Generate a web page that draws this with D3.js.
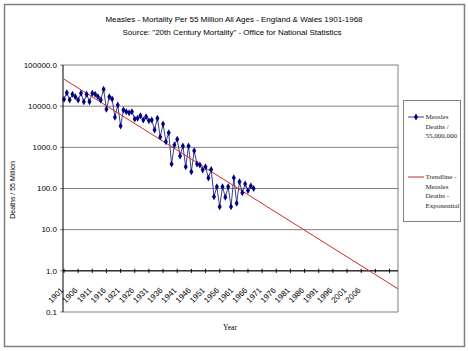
<!DOCTYPE html>
<html>
<head>
<meta charset="utf-8">
<script src="https://cdn.jsdelivr.net/npm/d3@7"></script>
<style>
  body { margin: 0; background: #fff; }
  svg { display: block; }
</style>
</head>
<body>
<script>
// measles deaths per 55 million, 1901 - 1968
let startYear = 1901;
let deaths = [
    14700, 21200, 14100, 19400, 17000, 14100, 20600, 12800, 19400, 12800,
    20600, 19400, 17000, 14100, 25700, 8400, 17000, 14900, 5400, 10700,
    3300, 8070, 7350, 6940, 7350, 4880, 5070, 5870, 4620, 5550,
    4440, 4620, 2640, 5070, 1780, 3690, 1370, 2270, 394, 1140,
    1570, 617, 1080, 339, 1080, 256, 828, 394, 372, 282,
    339, 180, 290, 63, 111, 36, 111, 61, 111, 36,
    183, 44, 146, 79, 129, 89, 115, 100
];
let yTicks = [0.1, 1, 10, 100, 1000, 10000, 100000];
let xLabels = ['1901', '1906', '1911', '1916', '1921', '1926', '1931', '1936', '1941', '1946', '1951',
    '1956', '1961', '1966', '1971', '1976', '1981', '1986', '1991', '1996', '2001', '2006'];
let tickYears = [1901, 1906, 1911, 1916, 1921, 1926, 1931, 1936, 1941, 1946, 1951, 1956, 1961, 1966,
    1971, 1976, 1981, 1986, 1991, 1996, 2001, 2006, 2011, 2016];
let lastYear = 2019; // end of the forecast period

let width = 468, height = 351;
let plot = {left: 63, right: 398, top: 65, bottom: 312};

let svg = d3.select('body').append('svg')
    .attr('width', width)
    .attr('height', height);

// outer chart frame
svg.append('rect')
    .attr('x', 4.5).attr('y', 4.5)
    .attr('width', 460).attr('height', 342)
    .style('fill', '#fff')
    .style('stroke', '#808080')
    .style('stroke-width', 1.5);

let x = d3.scaleLinear().domain([startYear, lastYear]).range([plot.left + 1, plot.right]);
let y = d3.scaleLog().domain([0.1, 100000]).range([plot.bottom, plot.top]);

let points = deaths.map((d, i) => ({year: startYear + i, value: d}));

// title
let title = svg.append('g').style('font-family', 'Liberation Sans, Arial, sans-serif')
    .style('font-size', '8px').attr('text-anchor', 'middle');
title.append('text').attr('x', 234).attr('y', 22)
    .text('Measles - Mortality Per 55 Million All Ages - England & Wales 1901-1968');
title.append('text').attr('x', 232).attr('y', 35)
    .text('Source: "20th Century Mortality" - Office for National Statistics');

// gridlines
svg.append('g').selectAll('line').data(yTicks).enter().append('line')
    .attr('x1', plot.left - 3).attr('x2', plot.right)
    .attr('y1', d => y(d)).attr('y2', d => y(d))
    .style('stroke', '#808080')
    .style('stroke-width', 1);

// right edge of plot area
svg.append('line')
    .attr('x1', plot.right).attr('x2', plot.right)
    .attr('y1', plot.top).attr('y2', plot.bottom)
    .style('stroke', '#808080');

// y axis line
svg.append('line')
    .attr('x1', plot.left).attr('x2', plot.left)
    .attr('y1', plot.top).attr('y2', plot.bottom)
    .style('stroke', '#000');

// y labels
svg.append('g').selectAll('text').data(yTicks).enter().append('text')
    .attr('x', plot.left - 6)
    .attr('y', d => y(d))
    .attr('dy', '0.35em')
    .attr('text-anchor', 'end')
    .style('font-family', 'Liberation Sans, Arial, sans-serif')
    .style('font-size', '8px')
    .text(d => d3.format('.1f')(d));

// x axis sits at 1.0
let axisY = y(1);
svg.append('line')
    .attr('x1', plot.left).attr('x2', plot.right)
    .attr('y1', axisY).attr('y2', axisY)
    .style('stroke', '#000');

svg.append('g').selectAll('line').data(tickYears).enter().append('line')
    .attr('x1', d => x(d)).attr('x2', d => x(d))
    .attr('y1', axisY - 2).attr('y2', axisY + 2)
    .style('stroke', '#000');

svg.append('g').selectAll('text').data(xLabels).enter().append('text')
    .attr('transform', d => 'translate(' + (x(+d) - 2) + ',' + (axisY + 18) + ') rotate(-45)')
    .attr('dy', '0.35em')
    .attr('text-anchor', 'end')
    .style('font-family', 'Liberation Sans, Arial, sans-serif')
    .style('font-size', '8px')
    .text(d => d);

// axis titles
svg.append('text')
    .attr('x', 230).attr('y', 330)
    .attr('text-anchor', 'middle')
    .style('font-family', 'Liberation Serif, Times New Roman, serif')
    .style('font-size', '7.5px')
    .text('Year');

svg.append('text')
    .attr('transform', 'translate(15,190) rotate(-90)')
    .attr('text-anchor', 'middle')
    .style('font-family', 'Liberation Sans, Arial, sans-serif')
    .style('font-size', '7px')
    .text('Deaths / 55 Million');

// exponential trendline, least squares on ln(value) like excel does
let mx = d3.mean(points, d => d.year);
let my = d3.mean(points, d => Math.log(d.value));
let b = d3.sum(points, d => (d.year - mx) * (Math.log(d.value) - my)) /
    d3.sum(points, d => (d.year - mx) * (d.year - mx));
let a = my - b * mx;
let trend = [startYear, lastYear].map(yr => ({year: yr, value: Math.exp(a + b * yr)}));

let line = d3.line()
    .x(d => x(d.year))
    .y(d => y(d.value));

// data series
svg.append('path').datum(points)
    .attr('d', line)
    .style('fill', 'none')
    .style('stroke', '#3a3f8a')
    .style('stroke-width', 1);

svg.append('path').datum(trend)
    .attr('d', line)
    .style('fill', 'none')
    .style('stroke', '#cc2b2b')
    .style('stroke-width', 1);

let diamond = d3.symbol().type(d3.symbolDiamond).size(14);
svg.append('g').selectAll('path').data(points).enter().append('path')
    .attr('transform', d => 'translate(' + x(d.year) + ',' + y(d.value) + ')')
    .attr('d', diamond)
    .style('fill', '#000080');

// legend
let legend = svg.append('g');
legend.append('rect')
    .attr('x', 403.5).attr('y', 100.5)
    .attr('width', 57).attr('height', 121)
    .style('fill', '#fff')
    .style('stroke', '#808080');

let legendFont = {family: 'Liberation Serif, Times New Roman, serif', size: '7px'};
let entries = [
    {lines: ['Measles', 'Deaths /', '55,000,000'], y: 117, color: '#3a3f8a', marker: true},
    {lines: ['Trendline -', 'Measles', 'Deaths -', 'Exponential'], y: 177, color: '#cc2b2b', marker: false}
];
entries.forEach(e => {
    legend.append('line')
        .attr('x1', 408).attr('x2', 424)
        .attr('y1', e.y).attr('y2', e.y)
        .style('stroke', e.color);
    if (e.marker) {
        legend.append('path')
            .attr('transform', 'translate(416,' + e.y + ')')
            .attr('d', diamond)
            .style('fill', '#000080');
    }
    e.lines.forEach((t, i) => {
        legend.append('text')
            .attr('x', 425.5).attr('y', e.y + i * 9.5)
            .attr('dy', '0.35em')
            .style('font-family', legendFont.family)
            .style('font-size', legendFont.size)
            .style('fill', '#222')
            .text(t);
    });
});
</script>
</body>
</html>
